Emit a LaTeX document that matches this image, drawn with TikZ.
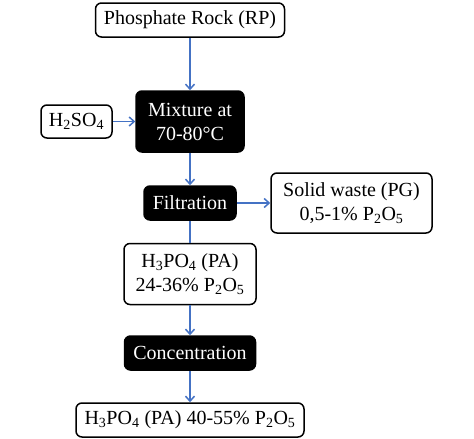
\documentclass[tikz,border=0pt]{standalone}
\usepackage{fontspec}
\setmainfont{Liberation Serif}
\usetikzlibrary{arrows.meta}
\definecolor{flowblue}{RGB}{68,114,196}
\begin{document}
\begin{tikzpicture}[x=1pt, y=-1pt,
	box/.style = {draw, line width=1.5pt, rounded corners=6pt, fill=white, inner sep=0pt, align=center, font=\fontsize{20}{24}\selectfont},
	blackbox/.style = {box, fill=black, text=white},
	arr/.style = {draw=flowblue, line width=1.5pt, -{Straight Barb[length=5pt,width=9pt]}}]
			\useasboundingbox (0,0) rectangle (474,439);
			\node[box, minimum width=189pt, minimum height=34pt] (rp) at (190,20) {Phosphate Rock (RP)};
			\node[blackbox, minimum width=108pt, minimum height=61pt] (mix) at (190,121.5) {Mixture at\\70-80°C};
			\node[box, minimum width=71pt, minimum height=33pt] (acid) at (76.5,121.5) {H\textsubscript{2}SO\textsubscript{4}};
			\node[blackbox, minimum width=92pt, minimum height=34pt] (filt) at (190,203) {Filtration};
			\node[box, minimum width=161pt, minimum height=60pt] (waste) at (351.5,203) {Solid waste (PG)\\0,5-1\% P\textsubscript{2}O\textsubscript{5}};
			\node[box, minimum width=132pt, minimum height=61pt] (pa) at (190,274) {H\textsubscript{3}PO\textsubscript{4} (PA)\\24-36\% P\textsubscript{2}O\textsubscript{5}};
			\node[blackbox, minimum width=131pt, minimum height=34pt] (conc) at (190,353) {Concentration};
			\node[box, minimum width=228pt, minimum height=34pt] (prod) at (190,420) {H\textsubscript{3}PO\textsubscript{4} (PA) 40-55\% P\textsubscript{2}O\textsubscript{5}};
			\draw[arr] (rp) -- (mix);
			\draw[arr] (acid) -- (mix);
			\draw[arr] (mix) -- (filt);
			\draw[arr] (filt) -- (waste);
			\draw[draw=flowblue, line width=1.5pt] (filt) -- (pa);
			\draw[arr] (pa) -- (conc);
			\draw[arr] (conc) -- (prod);
		\end{tikzpicture}
\end{document}
